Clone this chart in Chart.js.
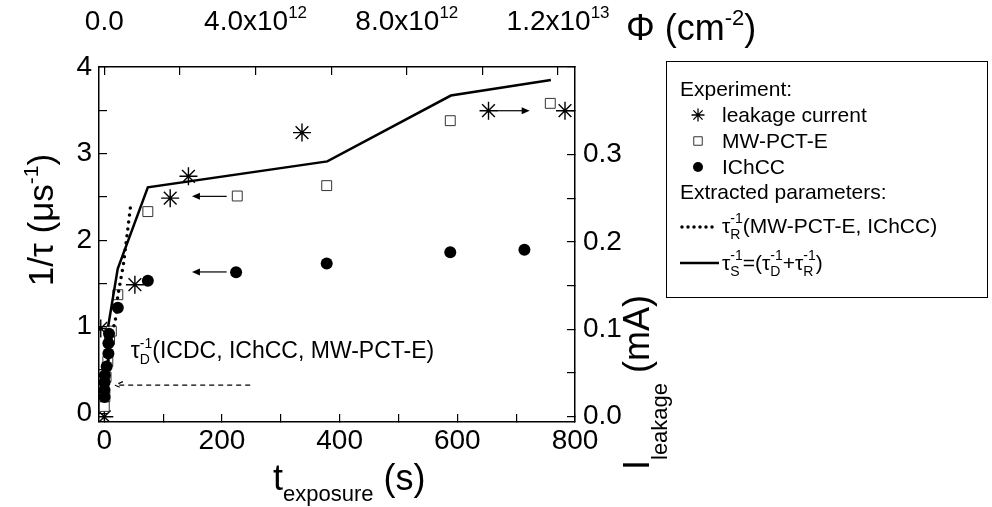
<!DOCTYPE html>
<html>
<head>
<meta charset="utf-8">
<script src="https://cdn.jsdelivr.net/npm/chart.js@4/dist/chart.umd.min.js"></script>
<style>
html, body { margin: 0; padding: 0; background: #fff; }
#wrap { width: 992px; height: 507px; }
</style>
</head>
<body>
<div id="wrap"><canvas id="grafico" width="992" height="507"></canvas></div>
<script>
// leakage current (right axis, mA) vs exposure time (s)
const leakT = [0, -6, 52, 112, 143, 336, 653, 783];
const leakI = [0.0, 0.101, 0.151, 0.250, 0.275, 0.325, 0.350, 0.350];
// MW-PCT-E, 1/tau (us^-1)
const mwT = [0, 1, 3, 6, 9, 12, 23, 74, 226, 378, 588, 758];
const mwV = [0.08, 0.19, 0.42, 0.60, 0.85, 0.95, 1.37, 2.33, 2.51, 2.63, 3.38, 3.58];
// IChCC, 1/tau (us^-1)
const ichT = [0.5, 0.5, 0.5, 1, 4, 7, 7, 8, 23, 74, 224, 378, 588, 714];
const ichV = [0.19, 0.27, 0.36, 0.44, 0.54, 0.69, 0.81, 0.92, 1.22, 1.53, 1.63, 1.73, 1.86, 1.89];
// extracted tau_R^-1 (dotted) and tau_S^-1 (solid)
const tauRT = [1.2, 4.6, 9.7, 15, 19.4, 22.8, 27.5, 32.3, 39.1, 44.9];
const tauRV = [0.21, 0.50, 0.79, 0.97, 1.10, 1.35, 1.53, 1.71, 2.08, 2.41];
const tauST = [6.5, 22.8, 74, 379, 589, 759];
const tauSV = [1.00, 1.67, 2.61, 2.91, 3.67, 3.85];
// tick positions (labels only on the major ones)
const xTicks = [0, 100, 200, 300, 400, 500, 600, 700, 800];
const xLabels = ['0', '', '200', '', '400', '', '600', '', '800'];
const yTicks = [0, 0.5, 1, 1.5, 2, 2.5, 3, 3.5, 4];
const yLabels = ['0', '', '1', '', '2', '', '3', '', '4'];
const y2Ticks = [0, 0.05, 0.1, 0.15, 0.2, 0.25, 0.3, 0.35, 0.4];
const y2Labels = ['0.0', '', '0.1', '', '0.2', '', '0.3', '', ''];
// top axis: fluence
const fluTicks = [0, 2e12, 4e12, 6e12, 8e12, 1e13, 1.2e13];
const fluLabels = [['0.0', ''], ['', ''], ['4.0x10', '12'], ['', ''], ['8.0x10', '12'], ['', ''], ['1.2x10', '13']];
const fluPerSecond = 1.556e10;

const FONT = '"Liberation Sans", Arial, sans-serif';
const pts = (xs, ys) => xs.map((x, i) => ({ x: x, y: ys[i] }));
const fixTicks = vals => s => { s.ticks = vals.map(v => ({ value: v })); };

// draws text made of parts (sub/superscripts); stack = next part starts at same x
function rich(ctx, parts, x, y, draw) {
    let cx = x, hold = null;
    parts.forEach(p => {
        ctx.font = p.s + 'px ' + FONT;
        const w = ctx.measureText(p.t).width;
        if (draw) ctx.fillText(p.t, cx, y + (p.dy || 0));
        if (p.stack) {
            hold = w;
        } else {
            cx += hold !== null ? Math.max(hold, w) : w;
            hold = null;
        }
    });
    return cx - x;
}

function arrow(ctx, x1, x2, y, open) {
    const dir = x2 > x1 ? 1 : -1;
    ctx.beginPath();
    ctx.moveTo(x1, y);
    ctx.lineTo(x2 - dir * (open ? 0 : 7), y);
    ctx.stroke();
    ctx.beginPath();
    ctx.moveTo(x2 - dir * 8, y - 3.5);
    ctx.lineTo(x2, y);
    ctx.lineTo(x2 - dir * 8, y + 3.5);
    if (open) {
        ctx.stroke();
    } else {
        ctx.closePath();
        ctx.fill();
    }
}

const textos = {
    id: 'textos',
    afterDraw(chart) {
        const ctx = chart.ctx;
        const sx = chart.scales.x, sy = chart.scales.y, sy2 = chart.scales.y2, st = chart.scales.xTop;
        ctx.save();
        ctx.fillStyle = '#000';
        ctx.strokeStyle = '#000';
        ctx.textBaseline = 'alphabetic';
        ctx.textAlign = 'left';

        // top axis labels
        fluTicks.forEach((v, i) => {
            if (!fluLabels[i][0]) return;
            const parts = [{ t: fluLabels[i][0], s: 28 }, { t: fluLabels[i][1], s: 17, dy: -12 }];
            const w = rich(ctx, parts, 0, 0, false);
            rich(ctx, parts, st.getPixelForValue(v) - w / 2, 30, true);
        });
        rich(ctx, [{ t: 'Φ (cm', s: 36 }, { t: '-2', s: 22, dy: -15 }, { t: ')', s: 36 }], 626, 40, true);

        // bottom title
        rich(ctx, [{ t: 't', s: 36 }, { t: 'exposure', s: 22, dy: 11 }, { t: ' (s)', s: 36 }], 273, 490, true);

        // left title
        const lt = [{ t: '1/τ (μs', s: 35 }, { t: '-1', s: 21, dy: -15 }, { t: ')', s: 35 }];
        ctx.save();
        ctx.translate(53, 220);
        ctx.rotate(-Math.PI / 2);
        rich(ctx, lt, -rich(ctx, lt, 0, 0, false) / 2, 0, true);
        ctx.restore();

        // right title
        ctx.save();
        ctx.translate(649, 470);
        ctx.rotate(-Math.PI / 2);
        rich(ctx, [{ t: 'I', s: 36 }, { t: 'leakage', s: 22, dy: 18 }, { t: ' (mA)', s: 36 }], 0, 0, true);
        ctx.restore();

        // arrows showing which axis each series uses
        ctx.lineWidth = 1.2;
        arrow(ctx, sx.getPixelForValue(208), sx.getPixelForValue(149), sy.getPixelForValue(2.506), false);
        arrow(ctx, sx.getPixelForValue(208), sx.getPixelForValue(149), sy.getPixelForValue(1.633), false);
        arrow(ctx, sx.getPixelForValue(667), sx.getPixelForValue(723), sy2.getPixelForValue(0.35), false);
        ctx.setLineDash([5, 4]);
        arrow(ctx, sx.getPixelForValue(248), sx.getPixelForValue(18), sy.getPixelForValue(0.326), true);
        ctx.setLineDash([]);
        rich(ctx, [{ t: 'τ', s: 23 }, { t: 'D', s: 14, dy: 6, stack: true }, { t: '-1', s: 14, dy: -10 },
            { t: '(ICDC, IChCC, MW-PCT-E)', s: 23 }], sx.getPixelForValue(45), sy.getPixelForValue(0.64), true);

        // legend
        ctx.lineWidth = 1;
        ctx.strokeRect(666.5, 61.5, 321, 236);
        const lf = 21;
        rich(ctx, [{ t: 'Experiment:', s: lf }], 680, 96, true);
        rich(ctx, [{ t: 'leakage current', s: lf }], 722, 122, true);
        rich(ctx, [{ t: 'MW-PCT-E', s: lf }], 722, 148, true);
        rich(ctx, [{ t: 'IChCC', s: lf }], 722, 174, true);
        rich(ctx, [{ t: 'Extracted parameters:', s: lf }], 680, 199, true);
        rich(ctx, [{ t: 'τ', s: lf }, { t: 'R', s: 14, dy: 6, stack: true }, { t: '-1', s: 14, dy: -10 },
            { t: '(MW-PCT-E, IChCC)', s: lf }], 722, 233, true);
        rich(ctx, [{ t: 'τ', s: lf }, { t: 'S', s: 14, dy: 6, stack: true }, { t: '-1', s: 14, dy: -10 },
            { t: '=(τ', s: lf }, { t: 'D', s: 14, dy: 6, stack: true }, { t: '-1', s: 14, dy: -10 },
            { t: '+τ', s: lf }, { t: 'R', s: 14, dy: 6, stack: true }, { t: '-1', s: 14, dy: -10 },
            { t: ')', s: lf }], 722, 270, true);

        const dp = Chart.helpers.drawPoint;
        ctx.lineWidth = 1.3;
        dp(ctx, { pointStyle: 'star', radius: 6.5, rotation: 0, borderWidth: 1.3 }, 698, 115);
        ctx.fillStyle = '#fff';
        ctx.strokeStyle = '#333';
        ctx.lineWidth = 1;
        dp(ctx, { pointStyle: 'rect', radius: 6, rotation: 0, borderWidth: 1 }, 698, 141);
        ctx.fillStyle = '#000';
        ctx.strokeStyle = '#000';
        dp(ctx, { pointStyle: 'circle', radius: 5, rotation: 0, borderWidth: 0 }, 698, 167);

        ctx.lineWidth = 3.5;
        ctx.lineCap = 'round';
        ctx.setLineDash([0, 6]);
        ctx.beginPath(); ctx.moveTo(682, 227); ctx.lineTo(718, 227); ctx.stroke();
        ctx.setLineDash([]);
        ctx.lineCap = 'butt';
        ctx.lineWidth = 2.5;
        ctx.beginPath(); ctx.moveTo(680, 263); ctx.lineTo(719, 263); ctx.stroke();
        ctx.restore();
    }
};

function axisBase(extra) {
    return Object.assign({
        type: 'linear',
        border: { display: true, color: '#000', width: 1.5 },
        grid: { drawOnChartArea: false, color: '#000', lineWidth: 1.2, tickLength: -8 }
    }, extra);
}

const tickFont = { family: FONT, size: 28 };

new Chart(document.getElementById('grafico'), {
    type: 'scatter',
    data: {
        datasets: [
            { label: 'tauS', data: pts(tauST, tauSV), showLine: true, borderColor: '#000', borderWidth: 2.5,
              pointRadius: 0, yAxisID: 'y' },
            { label: 'tauR', data: pts(tauRT, tauRV), showLine: true, borderColor: '#000', borderWidth: 3.5,
              borderDash: [0, 7], borderCapStyle: 'round', pointRadius: 0, yAxisID: 'y' },
            { label: 'IChCC', data: pts(ichT, ichV), pointStyle: 'circle', pointRadius: 6,
              backgroundColor: '#000', borderColor: '#000', borderWidth: 0, yAxisID: 'y' },
            { label: 'MW-PCT-E', data: pts(mwT, mwV), pointStyle: 'rect', pointRadius: 7,
              backgroundColor: '#fff', borderColor: '#333', borderWidth: 1, yAxisID: 'y' },
            { label: 'leakage current', data: pts(leakT, leakI), pointStyle: 'star', pointRadius: 9,
              borderColor: '#000', borderWidth: 1.4, yAxisID: 'y2' }
        ]
    },
    options: {
        responsive: false,
        animation: false,
        layout: { padding: 0 },
        plugins: { legend: { display: false }, tooltip: { enabled: false } },
        scales: {
            x: axisBase({
                position: 'bottom', min: -9, max: 800,
                afterFit: s => { s.height = 85; },
                afterBuildTicks: fixTicks(xTicks),
                ticks: { autoSkip: false, maxRotation: 0, color: '#000', font: tickFont, padding: 10,
                         callback: (v, i) => xLabels[i] }
            }),
            xTop: axisBase({
                position: 'top', min: -9 * fluPerSecond, max: 800 * fluPerSecond,
                afterFit: s => { s.height = 67; },
                afterBuildTicks: fixTicks(fluTicks),
                ticks: { autoSkip: false, display: false }
            }),
            y: axisBase({
                position: 'left', min: -0.1, max: 4,
                afterFit: s => { s.width = 99; },
                afterBuildTicks: fixTicks(yTicks),
                ticks: { autoSkip: false, color: '#000', font: tickFont, padding: 15,
                         callback: (v, i) => yLabels[i] }
            }),
            y2: axisBase({
                position: 'right', min: -0.006, max: 0.4,
                afterFit: s => { s.width = 417; },
                afterBuildTicks: fixTicks(y2Ticks),
                ticks: { autoSkip: false, color: '#000', font: tickFont, padding: 16,
                         callback: (v, i) => y2Labels[i] }
            })
        }
    },
    plugins: [textos]
});
</script>
</body>
</html>
